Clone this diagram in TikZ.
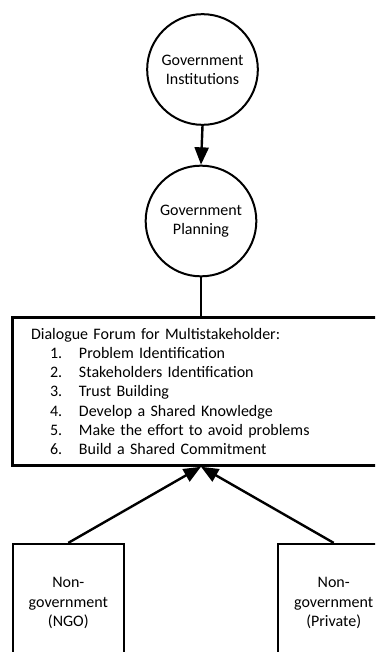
\documentclass[tikz,border=0pt]{standalone}
\usepackage{fontspec}
\setmainfont{Carlito}
\usetikzlibrary{arrows.meta}
\begin{document}
\begin{tikzpicture}[x=0.75pt,y=-0.75pt,
  every node/.style={font=\fontsize{12pt}{14.4pt}\selectfont, text=black},
  circ/.style={circle, draw, line width=1.5pt, minimum size=83pt, inner sep=0pt, align=center},
  forumbox/.style={rectangle, draw, line width=1.9pt, minimum width=282.5pt, minimum height=111pt,
    text width=255pt, align=left, inner xsep=13.7pt, inner ysep=0pt},
  partybox/.style={rectangle, draw, line width=1.7pt, minimum width=83.5pt, minimum height=88.5pt,
    inner sep=0pt, align=center},
  link/.style={line width=1.8pt},
  arrow/.style={link, -{Triangle[length=13pt,width=10.5pt]}}
]
\useasboundingbox (0,0) rectangle (375,652);
\clip (0,0) rectangle (375,652);

\node[circ] (gi) at (202.5,69.5) {Government\\Institutions};
\node[circ] (gp) at (201,221) {Government\\Planning};

\newcommand{\forumitem}[2]{\hspace*{14.25pt}\makebox[21.75pt][l]{#1}#2}
\node[forumbox] (forum) at (201,391.5) {Dialogue Forum for Multistakeholder:\\
  \forumitem{1.}{Problem Identification}\\
  \forumitem{2.}{Stakeholders Identification}\\
  \forumitem{3.}{Trust Building}\\
  \forumitem{4.}{Develop a Shared Knowledge}\\
  \forumitem{5.}{Make the effort to avoid problems}\\
  \forumitem{6.}{Build a Shared Commitment}};

\node[partybox] (ngo) at (68.3,603) {Non-\\government\\(NGO)};
\node[partybox] (priv) at (333.7,603) {Non-\\government\\(Private)};

\draw[arrow] (gi.south) -- (gp.north);
\draw[link] (gp.south) -- (forum.north);
\draw[arrow] (ngo.north) -- (forum.south);
\draw[arrow] (priv.north) -- (forum.south);
\end{tikzpicture}
\end{document}
